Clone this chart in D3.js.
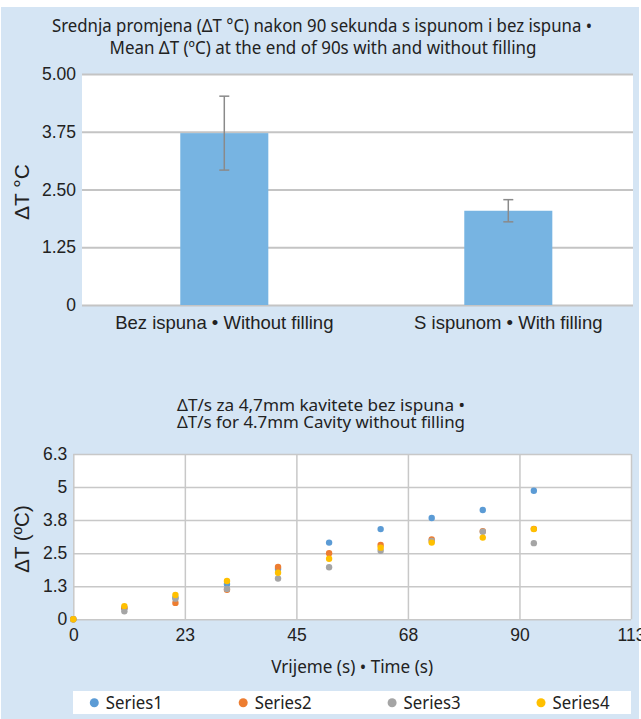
<!DOCTYPE html>
<html>
<head>
<meta charset="utf-8">
<script src="https://cdn.jsdelivr.net/npm/d3@7"></script>
<style>
  body { margin: 0; background: #fff; }
  svg { display: block; }
  .tick line { stroke: #c6c6c6; }
  .domain { display: none; }
</style>
</head>
<body>
<svg id="canvas" width="641" height="719"></svg>
<script>
// data
var barCategories = ['Bez ispuna • Without filling', 'S ispunom • With filling'];
var barMeans = [3.72, 2.04];
var barErrors = [0.8, 0.24];
var barTicks = [0, 1.25, 2.5, 3.75, 5];
var barTickLabels = ['0', '1.25', '2.50', '3.75', '5.00'];

var times = [0, 10.3, 20.6, 31, 41.3, 51.6, 62, 72.3, 82.6, 92.9];
var series1 = [0, 0.42, 0.82, 1.33, 1.90, 2.90, 3.41, 3.83, 4.13, 4.86];
var series2 = [0, 0.43, 0.62, 1.12, 1.98, 2.50, 2.81, 3.02, 3.33, 3.42];
var series3 = [0, 0.30, 0.78, 1.15, 1.54, 1.97, 2.59, 2.96, 3.31, 2.88];
var series4 = [0, 0.50, 0.92, 1.45, 1.76, 2.29, 2.71, 2.90, 3.09, 3.41];
var seriesNames = ['Series1', 'Series2', 'Series3', 'Series4'];
var xTicks = [0, 22.5, 45, 67.5, 90, 112.5];
var xTickLabels = ['0', '23', '45', '68', '90', '113'];
var yTicks = [0, 1.25, 2.5, 3.75, 5, 6.25];
var yTickLabels = ['0', '1.3', '2.5', '3.8', '5', '6.3'];

var colors = ['#5b9bd5', '#ed7d31', '#a5a5a5', '#ffc000'];
var arial = 'Liberation Sans, Arial, sans-serif';
var cond = 'Noto Sans, sans-serif';

var canvas = d3.select('#canvas');

// background panel
canvas.append('rect')
  .attr('x', 1).attr('y', 7)
  .attr('width', 638).attr('height', 712)
  .style('fill', '#d5e5f4');

// ---------- top chart ----------
var topBox = { left: 82, right: 633, top: 74, bottom: 305 };

canvas.append('text')
  .attr('x', 322).attr('y', 32)
  .attr('text-anchor', 'middle')
  .attr('textLength', 540).attr('lengthAdjust', 'spacingAndGlyphs')
  .style('font-family', cond).style('font-size', '17.5px').style('fill', '#222')
  .text('Srednja promjena (ΔT °C) nakon 90 sekunda s ispunom i bez ispuna •');
canvas.append('text')
  .attr('x', 323).attr('y', 54)
  .attr('text-anchor', 'middle')
  .attr('textLength', 427).attr('lengthAdjust', 'spacingAndGlyphs')
  .style('font-family', cond).style('font-size', '17.5px').style('fill', '#222')
  .text('Mean ΔT (ºC) at the end of 90s with and without filling');

canvas.append('rect')
  .attr('x', topBox.left).attr('y', topBox.top)
  .attr('width', topBox.right - topBox.left).attr('height', topBox.bottom - topBox.top)
  .style('fill', '#fff');

var xBand = d3.scaleBand()
  .domain(barCategories)
  .range([82.3, 650.3])
  .paddingInner(0.69)
  .paddingOuter(0.345);

var yTop = d3.scaleLinear()
  .domain([0, 5])
  .range([topBox.bottom, topBox.top]);

var yTopAxis = d3.axisLeft(yTop)
  .tickValues(barTicks)
  .tickFormat(function(d, i) { return barTickLabels[i]; })
  .tickSize(-(topBox.right - topBox.left))
  .tickPadding(6);

var gTopY = canvas.append('g')
  .attr('transform', 'translate(' + topBox.left + ',0)')
  .call(yTopAxis);
gTopY.selectAll('.tick line').style('stroke', '#c4c4c4').style('stroke-width', 2);
gTopY.selectAll('.tick text')
  .style('font-family', arial).style('font-size', '17.5px').style('fill', '#222');

canvas.selectAll('.bar')
  .data(barMeans)
  .enter()
  .append('rect')
  .attr('class', 'bar')
  .attr('x', function(d, i) { return xBand(barCategories[i]); })
  .attr('width', xBand.bandwidth())
  .attr('y', function(d) { return yTop(d); })
  .attr('height', function(d) { return yTop(0) - yTop(d); })
  .style('fill', '#77b4e2');

// error bars
var errG = canvas.selectAll('.err')
  .data(barMeans)
  .enter()
  .append('g')
  .attr('class', 'err')
  .style('stroke', '#8a8a8a').style('stroke-width', 1.5);
errG.append('line')
  .attr('x1', function(d, i) { return xBand(barCategories[i]) + xBand.bandwidth() / 2; })
  .attr('x2', function(d, i) { return xBand(barCategories[i]) + xBand.bandwidth() / 2; })
  .attr('y1', function(d, i) { return yTop(d + barErrors[i]); })
  .attr('y2', function(d, i) { return yTop(d - barErrors[i]); });
[1, -1].forEach(function(s) {
  errG.append('line')
    .attr('x1', function(d, i) { return xBand(barCategories[i]) + xBand.bandwidth() / 2 - 5; })
    .attr('x2', function(d, i) { return xBand(barCategories[i]) + xBand.bandwidth() / 2 + 5; })
    .attr('y1', function(d, i) { return yTop(d + s * barErrors[i]); })
    .attr('y2', function(d, i) { return yTop(d + s * barErrors[i]); });
});

canvas.selectAll('.catlabel')
  .data(barCategories)
  .enter()
  .append('text')
  .attr('class', 'catlabel')
  .attr('x', function(d) { return xBand(d) + xBand.bandwidth() / 2; })
  .attr('y', 328.5)
  .attr('text-anchor', 'middle')
  .style('font-family', arial).style('font-size', '18.5px').style('fill', '#222')
  .text(function(d) { return d; });

canvas.append('text')
  .attr('transform', 'translate(29,192) rotate(-90)')
  .attr('text-anchor', 'middle')
  .style('font-family', arial).style('font-size', '21px').style('fill', '#222')
  .text('ΔT °C');

// ---------- bottom chart ----------
var bot = { left: 73.3, right: 631, top: 454, bottom: 619.3 };

canvas.append('text')
  .attr('x', 321).attr('y', 411)
  .attr('text-anchor', 'middle')
  .attr('textLength', 288).attr('lengthAdjust', 'spacingAndGlyphs')
  .style('font-family', cond).style('font-size', '15.5px').style('fill', '#222')
  .text('ΔT/s za 4,7mm kavitete bez ispuna •');
canvas.append('text')
  .attr('x', 321).attr('y', 428)
  .attr('text-anchor', 'middle')
  .attr('textLength', 288).attr('lengthAdjust', 'spacingAndGlyphs')
  .style('font-family', cond).style('font-size', '15.5px').style('fill', '#222')
  .text('ΔT/s for 4.7mm Cavity without filling');

canvas.append('rect')
  .attr('x', bot.left).attr('y', bot.top)
  .attr('width', bot.right - bot.left).attr('height', bot.bottom - bot.top)
  .style('fill', '#fff');

var xScale = d3.scaleLinear()
  .domain([0, 112.5])
  .range([bot.left, bot.right]);
var yScale = d3.scaleLinear()
  .domain([0, 6.25])
  .range([bot.bottom, bot.top]);

var xAxis = d3.axisBottom(xScale)
  .tickValues(xTicks)
  .tickFormat(function(d, i) { return xTickLabels[i]; })
  .tickSize(-(bot.bottom - bot.top))
  .tickPadding(9);
var yAxis = d3.axisLeft(yScale)
  .tickValues(yTicks)
  .tickFormat(function(d, i) { return yTickLabels[i]; })
  .tickSize(-(bot.right - bot.left))
  .tickPadding(6);

var gX = canvas.append('g')
  .attr('transform', 'translate(0,' + bot.bottom + ')')
  .call(xAxis);
var gY = canvas.append('g')
  .attr('transform', 'translate(' + bot.left + ',0)')
  .call(yAxis);
[gX, gY].forEach(function(g) {
  g.selectAll('.tick line').style('stroke', '#c8c8c8').style('stroke-width', 1.5);
  g.selectAll('.tick text')
    .style('font-family', arial).style('font-size', '17.5px').style('fill', '#222');
});

var allSeries = [series1, series2, series3, series4];
allSeries.forEach(function(values, si) {
  canvas.selectAll('.dot' + si)
    .data(values)
    .enter()
    .append('circle')
    .attr('class', 'dot' + si)
    .attr('cx', function(d, i) { return xScale(times[i]); })
    .attr('cy', function(d) { return yScale(d); })
    .attr('r', 3.2)
    .style('fill', colors[si]);
});

canvas.append('text')
  .attr('transform', 'translate(29,539) rotate(-90)')
  .attr('text-anchor', 'middle')
  .style('font-family', arial).style('font-size', '20.5px').style('fill', '#222')
  .text('ΔT (ºC)');

canvas.append('text')
  .attr('x', (bot.left + bot.right) / 2).attr('y', 673)
  .attr('text-anchor', 'middle')
  .attr('textLength', 162).attr('lengthAdjust', 'spacingAndGlyphs')
  .style('font-family', cond).style('font-size', '17.5px').style('fill', '#222')
  .text('Vrijeme (s) • Time (s)');

// legend
canvas.append('rect')
  .attr('x', 73).attr('y', 691)
  .attr('width', 558).attr('height', 23)
  .style('fill', '#fff');

var legendX = d3.scalePoint()
  .domain(seriesNames)
  .range([94.3, 541]);

var legend = canvas.selectAll('.legend')
  .data(seriesNames)
  .enter()
  .append('g')
  .attr('class', 'legend')
  .attr('transform', function(d) { return 'translate(' + legendX(d) + ',0)'; });
legend.append('circle')
  .attr('cx', 0).attr('cy', 702.7).attr('r', 4.5)
  .style('fill', function(d, i) { return colors[i]; });
legend.append('text')
  .attr('x', 11.5).attr('y', 708.5)
  .attr('textLength', 57).attr('lengthAdjust', 'spacingAndGlyphs')
  .style('font-family', cond).style('font-size', '17.5px').style('fill', '#222')
  .text(function(d) { return d; });
</script>
</body>
</html>
